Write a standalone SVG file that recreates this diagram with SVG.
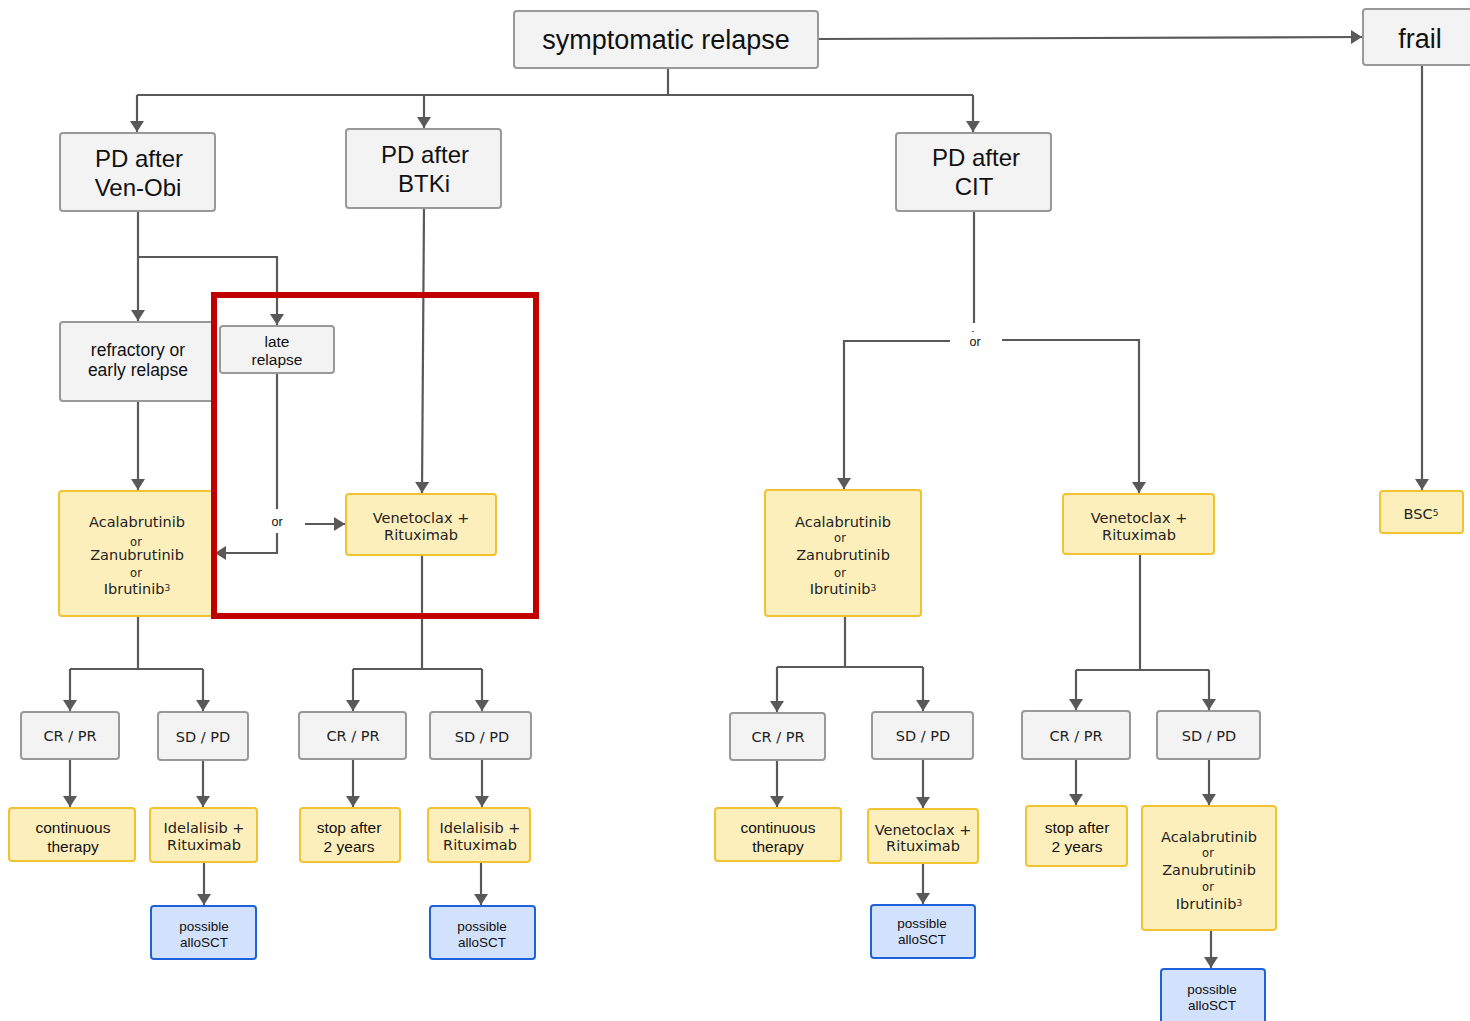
<svg xmlns="http://www.w3.org/2000/svg" width="1470" height="1021" viewBox="0 0 1470 1021">
  <defs>
    <marker id="arr" markerUnits="userSpaceOnUse" markerWidth="12" markerHeight="14" refX="11" refY="7" orient="auto">
      <path d="M0,0 L11,7 L0,14 z" fill="#595959"/>
    </marker>
    <style>
      .gray { fill: #f3f3f3; stroke: #999999; stroke-width: 2; }
      .yel { fill: #fdefbc; stroke: #f1c232; stroke-width: 2; }
      .blue { fill: #d3e2fc; stroke: #1d62d8; stroke-width: 2; }
      .c { fill: none; stroke: #595959; stroke-width: 2.2; }
      .ca { fill: none; stroke: #595959; stroke-width: 2.2; marker-end: url(#arr); }
      text { text-anchor: middle; fill: #111111; }
      .lg { font-family: "Liberation Sans", Arial, sans-serif; font-size: 27px; }
      .pd { font-family: "Liberation Sans", Arial, sans-serif; font-size: 24px; }
      .md { font-family: "Liberation Sans", Arial, sans-serif; font-size: 17.5px; }
      .sm { font-family: "Liberation Sans", Arial, sans-serif; font-size: 15.5px; }
      .xs { font-family: "Liberation Sans", Arial, sans-serif; font-size: 13.5px; }
      .orl { font-family: "Liberation Sans", Arial, sans-serif; font-size: 12.5px; }
      .dv { font-family: "DejaVu Sans", Verdana, sans-serif; font-size: 14.5px; fill: #222222; }
      .dvs { font-family: "DejaVu Sans", Verdana, sans-serif; font-size: 11.5px; fill: #222222; }
      .sup { font-size: 9px; }
    </style>
  </defs>

  <!-- connectors -->
  <g id="connectors">
    <path class="ca" d="M818,39 L1362,37"/>
    <path class="c" d="M668,68 V95 M137,95 H973"/>
    <path class="ca" d="M137,95 V132"/>
    <path class="ca" d="M424,95 V128"/>
    <path class="ca" d="M973,95 V132"/>
    <!-- Ven-Obi branch -->
    <path class="ca" d="M138,211 V321"/>
    <path class="ca" d="M138,257 H277 V325"/>
    <path class="ca" d="M138,401 V490"/>
    <path class="c" d="M277,373 V509"/>
    <path class="ca" d="M277,533 V553 H215"/>
    <path class="ca" d="M305,524 H345"/>
    <!-- BTKi branch -->
    <path class="ca" d="M424,208 L422,493"/>
    <!-- left outcome tree -->
    <path class="c" d="M138,616 V669 M70,669 H203"/>
    <path class="ca" d="M70,669 V711"/>
    <path class="ca" d="M203,669 V711"/>
    <path class="ca" d="M70,759 V807"/>
    <path class="ca" d="M203,760 V807"/>
    <path class="ca" d="M204,862 V905"/>
    <!-- BTKi outcome tree -->
    <path class="c" d="M422,555 V669 M353,669 H482"/>
    <path class="ca" d="M353,669 V711"/>
    <path class="ca" d="M482,669 V711"/>
    <path class="ca" d="M353,759 V807"/>
    <path class="ca" d="M482,759 V807"/>
    <path class="ca" d="M481,862 V905"/>
    <!-- CIT branch -->
    <path class="c" d="M974,211 V323"/>
    <path class="c" d="M973,331 V332"/>
    <path class="ca" d="M950,341 H844 V489"/>
    <path class="ca" d="M1002,340 H1139 V493"/>
    <path class="c" d="M845,616 V667 M777,667 H923"/>
    <path class="ca" d="M777,667 V712"/>
    <path class="ca" d="M923,667 V711"/>
    <path class="ca" d="M777,760 V807"/>
    <path class="ca" d="M923,759 V808"/>
    <path class="ca" d="M923,863 V904"/>
    <path class="c" d="M1140,554 V670 M1076,670 H1209"/>
    <path class="ca" d="M1076,670 V710"/>
    <path class="ca" d="M1209,670 V710"/>
    <path class="ca" d="M1076,759 V805"/>
    <path class="ca" d="M1209,759 V805"/>
    <path class="ca" d="M1211,930 V968"/>
    <!-- frail branch -->
    <path class="ca" d="M1422,65 V490"/>
  </g>

  <g id="n-symptomatic">
    <rect class="gray" x="514" y="11" width="304" height="57" rx="3"/>
    <text class="lg" x="666" y="49">symptomatic relapse</text>
  </g>
  <g id="n-frail">
    <rect class="gray" x="1363" y="9" width="120" height="56" rx="3"/>
    <text class="lg" x="1420" y="48">frail</text>
  </g>

  <g id="n-pd-venobi">
    <rect class="gray" x="60" y="133" width="155" height="78" rx="3"/>
    <text class="pd" x="139" y="167">PD after</text>
    <text class="pd" x="138" y="196">Ven-Obi</text>
  </g>
  <g id="n-pd-btki">
    <rect class="gray" x="346" y="129" width="155" height="79" rx="3"/>
    <text class="pd" x="425" y="163">PD after</text>
    <text class="pd" x="424" y="192">BTKi</text>
  </g>
  <g id="n-pd-cit">
    <rect class="gray" x="896" y="133" width="155" height="78" rx="3"/>
    <text class="pd" x="976" y="166">PD after</text>
    <text class="pd" x="974" y="195">CIT</text>
  </g>

  <g id="n-refractory">
    <rect class="gray" x="60" y="322" width="155" height="79" rx="3"/>
    <text class="md" x="138" y="356">refractory or</text>
    <text class="md" x="138" y="376">early relapse</text>
  </g>
  <g id="n-late">
    <rect class="gray" x="220" y="326" width="114" height="47" rx="3"/>
    <text class="sm" x="277" y="347">late</text>
    <text class="sm" x="277" y="365">relapse</text>
  </g>

  <g id="n-btk-l">
    <rect class="yel" x="59" y="491" width="154" height="125" rx="3"/>
    <text class="dv" x="137" y="527">Acalabrutinib</text>
    <text class="dvs" x="136" y="546">or</text>
    <text class="dv" x="137" y="560">Zanubrutinib</text>
    <text class="dvs" x="136" y="577">or</text>
    <text class="dv" x="137" y="594">Ibrutinib<tspan class="sup" dy="-3">3</tspan></text>
  </g>
  <text class="orl" x="277" y="526">or</text>
  <g id="n-ven-btki">
    <rect class="yel" x="346" y="494" width="150" height="61" rx="3"/>
    <text class="dv" x="421" y="523">Venetoclax +</text>
    <text class="dv" x="421" y="540">Rituximab</text>
  </g>

  <!-- left outcomes -->
  <g id="n-crpr-1">
    <rect class="gray" x="21" y="712" width="98" height="47" rx="3"/>
    <text class="dv" x="70" y="741">CR / PR</text>
  </g>
  <g id="n-sdpd-1">
    <rect class="gray" x="158" y="712" width="90" height="48" rx="3"/>
    <text class="dv" x="203" y="742">SD / PD</text>
  </g>
  <g id="n-cont-1">
    <rect class="yel" x="9" y="808" width="126" height="53" rx="3"/>
    <text class="sm" x="73" y="833">continuous</text>
    <text class="sm" x="73" y="852">therapy</text>
  </g>
  <g id="n-idel-1">
    <rect class="yel" x="150" y="808" width="107" height="54" rx="3"/>
    <text class="dv" x="204" y="833">Idelalisib +</text>
    <text class="dv" x="204" y="850">Rituximab</text>
  </g>
  <g id="n-allo-1">
    <rect class="blue" x="151" y="906" width="105" height="53" rx="3"/>
    <text class="xs" x="204" y="931">possible</text>
    <text class="xs" x="204" y="947">alloSCT</text>
  </g>

  <!-- BTKi outcomes -->
  <g id="n-crpr-2">
    <rect class="gray" x="299" y="712" width="107" height="47" rx="3"/>
    <text class="dv" x="353" y="741">CR / PR</text>
  </g>
  <g id="n-sdpd-2">
    <rect class="gray" x="430" y="712" width="101" height="47" rx="3"/>
    <text class="dv" x="482" y="742">SD / PD</text>
  </g>
  <g id="n-stop-2">
    <rect class="yel" x="300" y="808" width="100" height="54" rx="3"/>
    <text class="sm" x="349" y="833">stop after</text>
    <text class="sm" x="349" y="852">2 years</text>
  </g>
  <g id="n-idel-2">
    <rect class="yel" x="428" y="808" width="102" height="54" rx="3"/>
    <text class="dv" x="480" y="833">Idelalisib +</text>
    <text class="dv" x="480" y="850">Rituximab</text>
  </g>
  <g id="n-allo-2">
    <rect class="blue" x="430" y="906" width="105" height="53" rx="3"/>
    <text class="xs" x="482" y="931">possible</text>
    <text class="xs" x="482" y="947">alloSCT</text>
  </g>

  <!-- CIT branch -->
  <text class="orl" x="975" y="346">or</text>
  <g id="n-btk-c">
    <rect class="yel" x="765" y="490" width="156" height="126" rx="3"/>
    <text class="dv" x="843" y="527">Acalabrutinib</text>
    <text class="dvs" x="840" y="542">or</text>
    <text class="dv" x="843" y="560">Zanubrutinib</text>
    <text class="dvs" x="840" y="577">or</text>
    <text class="dv" x="843" y="594">Ibrutinib<tspan class="sup" dy="-3">3</tspan></text>
  </g>
  <g id="n-ven-c">
    <rect class="yel" x="1063" y="494" width="151" height="60" rx="3"/>
    <text class="dv" x="1139" y="523">Venetoclax +</text>
    <text class="dv" x="1139" y="540">Rituximab</text>
  </g>
  <g id="n-crpr-3">
    <rect class="gray" x="730" y="713" width="95" height="47" rx="3"/>
    <text class="dv" x="778" y="742">CR / PR</text>
  </g>
  <g id="n-sdpd-3">
    <rect class="gray" x="872" y="712" width="101" height="47" rx="3"/>
    <text class="dv" x="923" y="741">SD / PD</text>
  </g>
  <g id="n-cont-3">
    <rect class="yel" x="715" y="808" width="126" height="53" rx="3"/>
    <text class="sm" x="778" y="833">continuous</text>
    <text class="sm" x="778" y="852">therapy</text>
  </g>
  <g id="n-ven-3">
    <rect class="yel" x="868" y="809" width="110" height="54" rx="3"/>
    <text class="dv" x="923" y="835">Venetoclax +</text>
    <text class="dv" x="923" y="851">Rituximab</text>
  </g>
  <g id="n-allo-3">
    <rect class="blue" x="871" y="905" width="104" height="53" rx="3"/>
    <text class="xs" x="922" y="928">possible</text>
    <text class="xs" x="922" y="944">alloSCT</text>
  </g>
  <g id="n-crpr-4">
    <rect class="gray" x="1022" y="711" width="108" height="48" rx="3"/>
    <text class="dv" x="1076" y="741">CR / PR</text>
  </g>
  <g id="n-sdpd-4">
    <rect class="gray" x="1157" y="711" width="103" height="48" rx="3"/>
    <text class="dv" x="1209" y="741">SD / PD</text>
  </g>
  <g id="n-stop-4">
    <rect class="yel" x="1026" y="806" width="101" height="60" rx="3"/>
    <text class="sm" x="1077" y="833">stop after</text>
    <text class="sm" x="1077" y="852">2 years</text>
  </g>
  <g id="n-btk-4">
    <rect class="yel" x="1142" y="806" width="134" height="124" rx="3"/>
    <text class="dv" x="1209" y="842">Acalabrutinib</text>
    <text class="dvs" x="1208" y="857">or</text>
    <text class="dv" x="1209" y="875">Zanubrutinib</text>
    <text class="dvs" x="1208" y="891">or</text>
    <text class="dv" x="1209" y="909">Ibrutinib<tspan class="sup" dy="-3">3</tspan></text>
  </g>
  <g id="n-allo-4">
    <rect class="blue" x="1161" y="969" width="104" height="56" rx="3"/>
    <text class="xs" x="1212" y="994">possible</text>
    <text class="xs" x="1212" y="1010">alloSCT</text>
  </g>

  <!-- frail branch -->
  <g id="n-bsc">
    <rect class="yel" x="1380" y="491" width="83" height="42" rx="3"/>
    <text class="dv" x="1421" y="519">BSC<tspan class="sup" dy="-3">5</tspan></text>
  </g>

  <!-- highlight frame -->
  <rect x="214" y="295" width="322" height="321" fill="none" stroke="#c00000" stroke-width="6"/>
</svg>
